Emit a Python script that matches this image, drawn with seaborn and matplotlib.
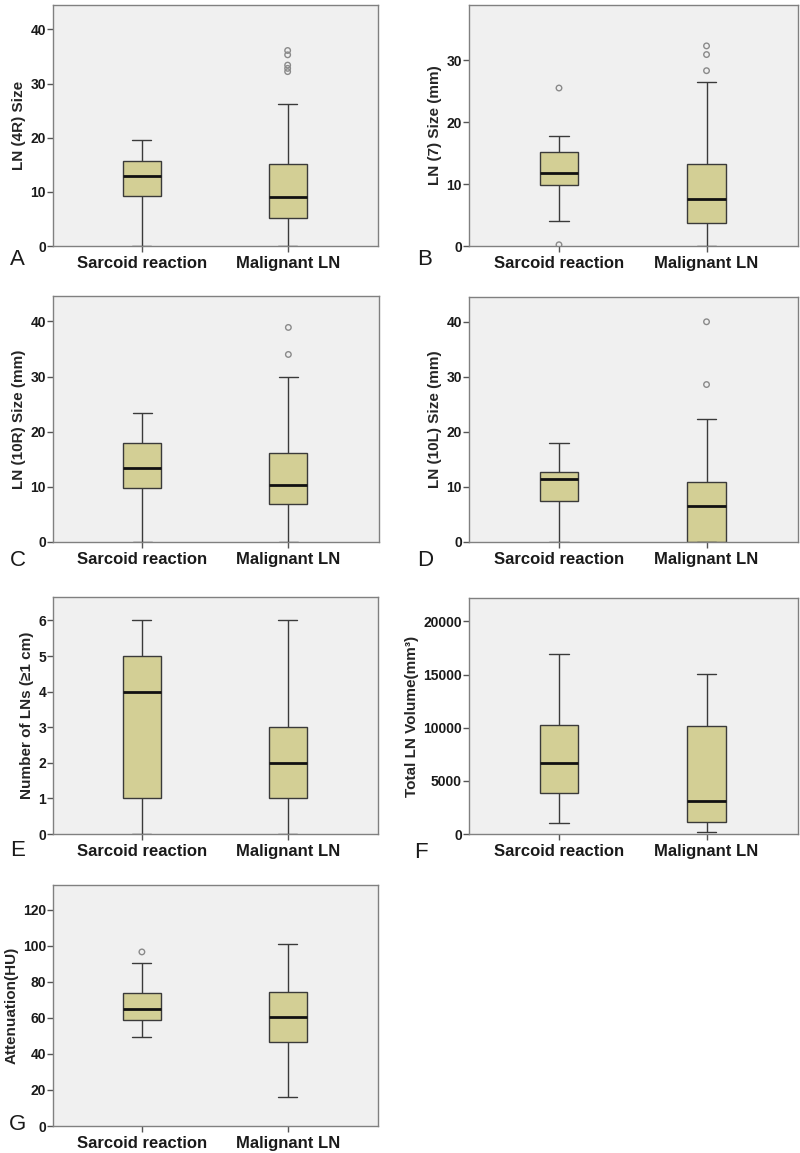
import numpy as np
import pandas as pd
import matplotlib
matplotlib.use('Agg')
import matplotlib.pyplot as plt
import seaborn as sns

groups = ['Sarcoid reaction', 'Malignant LN']

# five-number summaries: [whisker low, Q1, median, Q3, whisker high]
a_sarc = [0, 9.2, 13.0, 15.7, 19.6]
a_malig = [0, 5.2, 9.0, 15.2, 26.3]
a_out_sarc = []
a_out_malig = [32.2, 32.8, 33.4, 35.3, 36.1]

b_sarc = [4.1, 9.8, 11.8, 15.1, 17.7]
b_malig = [0, 3.7, 7.6, 13.2, 26.5]
b_out_sarc = [0.2, 25.5]
b_out_malig = [28.3, 30.9, 32.3]

c_sarc = [0, 9.8, 13.4, 17.9, 23.3]
c_malig = [0, 6.8, 10.4, 16.2, 30.0]
c_out_sarc = []
c_out_malig = [34.0, 38.9]

d_sarc = [0, 7.4, 11.5, 12.7, 17.9]
d_malig = [0, 0, 6.6, 10.9, 22.4]
d_out_sarc = []
d_out_malig = [28.6, 40.0]

e_sarc = [0, 1, 4, 5, 6]
e_malig = [0, 1, 2, 3, 6]

f_sarc = [1040, 3890, 6640, 10280, 16930]
f_malig = [160, 1170, 3100, 10120, 15090]

g_sarc = [49.5, 59.0, 65.1, 73.6, 90.2]
g_malig = [16.3, 46.8, 60.3, 74.1, 100.9]
g_out_sarc = [96.5]
g_out_malig = []

panels = [
    ('A', 'LN (4R) Size', a_sarc, a_malig, a_out_sarc, a_out_malig, 44.5, [0, 10, 20, 30, 40]),
    ('B', 'LN (7) Size (mm)', b_sarc, b_malig, b_out_sarc, b_out_malig, 38.9, [0, 10, 20, 30]),
    ('C', 'LN (10R) Size (mm)', c_sarc, c_malig, c_out_sarc, c_out_malig, 44.6, [0, 10, 20, 30, 40]),
    ('D', 'LN (10L) Size (mm)', d_sarc, d_malig, d_out_sarc, d_out_malig, 44.5, [0, 10, 20, 30, 40]),
    ('E', 'Number of LNs (\u22651 cm)', e_sarc, e_malig, [], [], 6.66, [0, 1, 2, 3, 4, 5, 6]),
    ('F', 'Total LN Volume(mm\u00b3)', f_sarc, f_malig, [], [], 22200, [0, 5000, 10000, 15000, 20000]),
    ('G', 'Attenuation(HU)', g_sarc, g_malig, g_out_sarc, g_out_malig, 133.6, [0, 20, 40, 60, 80, 100, 120]),
]

sns.set_style('ticks')
plt.rcParams['font.family'] = ['Liberation Sans', 'DejaVu Sans']
plt.rcParams['axes.facecolor'] = '#f0f0f0'
plt.rcParams['axes.edgecolor'] = '#808080'

W, H = 800, 1153
fig = plt.figure(figsize=(W / 100, H / 100), dpi=100)

# axes boxes in pixels: (left, top, right, bottom)
boxes = [(53, 5, 378, 246), (469, 5, 798, 246),
         (53, 296, 379, 542), (469, 297, 798, 542),
         (53, 597, 378, 834), (469, 598, 798, 834),
         (53, 885, 378, 1126)]
letter_pos = [(17, 259), (425, 259), (18, 561), (425, 560),
              (18, 851), (421, 852), (17, 1125)]

for (letter, ylabel, sarc, malig, out_s, out_m, ytop, yticks), (l, t, r, b), (lx, ly) in zip(panels, boxes, letter_pos):
    ax = fig.add_axes([l / W, 1 - b / H, (r - l) / W, (b - t) / H])
    df = pd.DataFrame({'group': [groups[0]] * len(sarc) + [groups[1]] * len(malig),
                       'value': sarc + malig})
    sns.boxplot(data=df, x='group', y='value', order=groups, whis=(0, 100),
                width=0.26, color='#d3cf95', saturation=1, linecolor='#3a3a3a',
                linewidth=1, fliersize=0,
                medianprops=dict(color='#111111', linewidth=2), ax=ax)
    if out_s or out_m:
        odf = pd.DataFrame({'group': [groups[0]] * len(out_s) + [groups[1]] * len(out_m),
                            'value': out_s + out_m})
        sns.stripplot(data=odf, x='group', y='value', order=groups, jitter=False,
                      size=4, linewidth=1, ax=ax)
        for c in ax.collections:
            c.set_facecolor('none')
            c.set_edgecolor('#8a8a8a')
    ax.set_xlim(-0.61, 1.62)
    ax.set_ylim(0, ytop)
    ax.set_yticks(yticks)
    ax.set_xlabel('')
    ax.set_ylabel(ylabel, fontsize=11, fontweight='bold', labelpad=3)
    ax.tick_params(axis='y', labelsize=10, length=4, width=1, color='#555555', pad=1)
    ax.tick_params(axis='x', labelsize=12, length=4, width=1, color='#555555', pad=3)
    for lab in ax.get_xticklabels() + ax.get_yticklabels():
        lab.set_fontweight('bold')
        lab.set_color('#1a1a1a')
    for s in ax.spines.values():
        s.set_visible(True)
        s.set_linewidth(1)
    fig.text(lx / W, 1 - ly / H, letter, fontsize=16, ha='center', va='center', color='#1a1a1a')

fig.savefig('out.png', dpi=100, facecolor='white')
